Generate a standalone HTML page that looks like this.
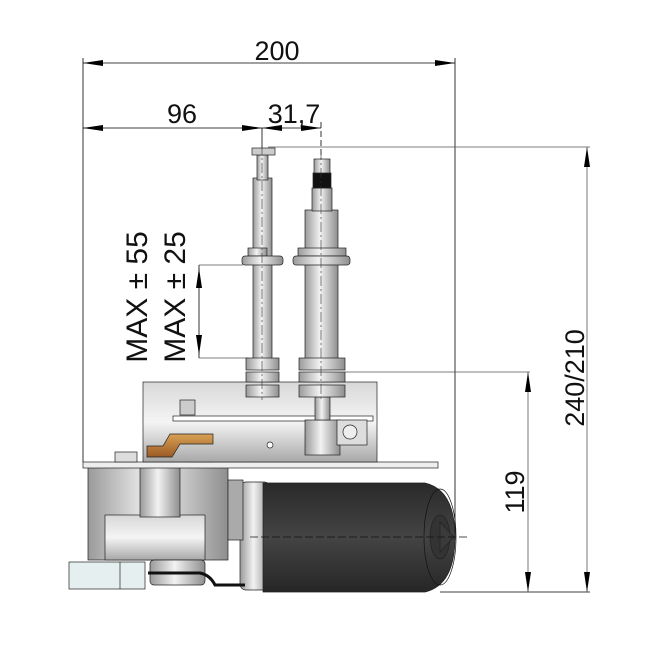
<!DOCTYPE html>
<html><head><style>html,body{margin:0;padding:0;background:#fff}svg{display:block}</style></head><body>
<svg width="660" height="656" viewBox="0 0 660 656" xmlns="http://www.w3.org/2000/svg" font-family="Liberation Sans, sans-serif">
<defs>
<linearGradient id="metal" x1="0" x2="1"><stop offset="0" stop-color="#9a9a9a"/><stop offset=".45" stop-color="#f2f2f2"/><stop offset="1" stop-color="#8e8e8e"/></linearGradient>
<linearGradient id="metalv" x1="0" y1="0" x2="0" y2="1"><stop offset="0" stop-color="#d8d8d8"/><stop offset=".5" stop-color="#f4f4f4"/><stop offset="1" stop-color="#a8a8a8"/></linearGradient>
<linearGradient id="black" x1="0" y1="0" x2="0" y2="1"><stop offset="0" stop-color="#2a2a2a"/><stop offset=".5" stop-color="#444"/><stop offset="1" stop-color="#262626"/></linearGradient>
<linearGradient id="copper" x1="0" y1="0" x2="0" y2="1"><stop offset="0" stop-color="#d9a256"/><stop offset="1" stop-color="#9b5a24"/></linearGradient>
</defs>
<g stroke="#000" stroke-width="0.8" fill="none">
<line x1="83" y1="58" x2="83" y2="462"/>
<line x1="455" y1="58" x2="455" y2="540"/>
<line x1="83" y1="63" x2="455" y2="63"/>
<line x1="83" y1="128" x2="321" y2="128"/>
<line x1="262" y1="128" x2="262" y2="150"/>
<line x1="321" y1="122" x2="321" y2="160" stroke-dasharray="6,3"/>
<line x1="268" y1="147" x2="590" y2="147" stroke="#555"/>
<line x1="345" y1="372" x2="530" y2="372" stroke="#555"/>
<line x1="440" y1="592" x2="590" y2="592"/>
<line x1="587" y1="147" x2="587" y2="592" stroke="#555"/>
<line x1="528" y1="372" x2="528" y2="592" stroke="#555"/>
<line x1="199" y1="265" x2="199" y2="358"/>
<line x1="199" y1="265" x2="243" y2="265" stroke="#555"/>
<line x1="199" y1="358" x2="248" y2="358" stroke="#555"/>
</g>
<g fill="#000">
<polygon points="83,63 103,60 103,66"/><polygon points="455,63 435,60 435,66"/>
<polygon points="83,128 103,125 103,131"/><polygon points="262,128 242,125 242,131"/>
<polygon points="262,128 282,125 282,131"/><polygon points="321,128 301,125 301,131"/>
<polygon points="587,147 584,167 590,167"/><polygon points="587,592 584,572 590,572"/>
<polygon points="528,372 525,392 531,392"/><polygon points="528,592 525,572 531,572"/>
<polygon points="199,268 196,288 202,288"/><polygon points="199,355 196,335 202,335"/>
</g>
<g font-size="27" fill="#111">
<text x="277" y="60" text-anchor="middle">200</text>
<text x="182" y="123" text-anchor="middle">96</text>
<text x="294" y="123" text-anchor="middle">31,7</text>
<text transform="translate(584,378) rotate(-90)" text-anchor="middle">240/210</text>
<text transform="translate(524,492) rotate(-90)" text-anchor="middle">119</text>
</g>
<g font-size="30" fill="#111">
<text transform="translate(147,297) rotate(-90)" text-anchor="middle">MAX ± 55</text>
<text transform="translate(185,297) rotate(-90)" text-anchor="middle">MAX ± 25</text>
</g>
<g stroke="#222" stroke-width="0.7">
<rect x="240" y="482" width="30" height="108" rx="6" fill="url(#metal)"/>
<path d="M263,483 H425 Q455,490 455,537 Q455,585 425,592 H263 Z" fill="url(#black)"/>
<ellipse cx="440" cy="537" rx="16" ry="48" fill="none" stroke="#111"/>
<ellipse cx="440" cy="537" rx="10" ry="22" fill="#333"/>
<path d="M440,522 L454,537 L440,552 Z" fill="#3a3a3a"/>
<line x1="250" y1="537" x2="468" y2="537" stroke="#111" stroke-dasharray="8,3"/>
<rect x="88" y="467" width="140" height="93" fill="url(#metal)"/>
<rect x="105" y="515" width="100" height="45" fill="url(#metalv)"/>
<rect x="140" y="467" width="40" height="50" fill="url(#metal)"/>
<rect x="228" y="480" width="15" height="60" fill="#aaa"/>
<rect x="150" y="560" width="55" height="25" rx="4" fill="url(#metal)"/>
<path d="M148,573 H200 Q210,575 215,585 H245" stroke="#111" stroke-width="3" fill="none"/>
<rect x="69" y="562" width="76" height="27" fill="#e6efef"/>
<line x1="120" y1="562" x2="120" y2="589"/>
<rect x="83" y="462" width="355" height="6" fill="#eee"/>
<rect x="115" y="452" width="22" height="10" fill="#ddd"/>
<rect x="190" y="452" width="22" height="10" fill="#ddd"/>
<rect x="143" y="382" width="234" height="80" fill="url(#metalv)"/>
<rect x="173" y="416" width="200" height="5" fill="#fff"/>
<rect x="305" y="420" width="35" height="35" fill="url(#metal)"/>
<rect x="337" y="420" width="30" height="25" fill="#ddd"/>
<circle cx="350" cy="432" r="7" fill="#eee"/>
<circle cx="270" cy="445" r="3" fill="#fff"/>
<rect x="180" y="400" width="15" height="15" fill="#ccc"/>
<path d="M147,446 H163 L170,434 H213 V444 H180 L172,457 H147 Z" fill="url(#copper)"/>
<rect x="315" y="397" width="15" height="23" fill="url(#metal)"/>
<rect x="253" y="178" width="19" height="185" fill="url(#metal)"/>
<rect x="257" y="155" width="11" height="25" fill="url(#metal)"/>
<rect x="252" y="148" width="23" height="7" fill="#ccc"/>
<rect x="248" y="248" width="19" height="8" fill="url(#metal)"/>
<rect x="242" y="256" width="41" height="9" rx="3" fill="url(#metal)"/>
<rect x="246" y="358" width="33" height="12" fill="url(#metal)"/>
<rect x="246" y="372" width="33" height="10" fill="url(#metal)"/>
<rect x="246" y="385" width="33" height="12" fill="url(#metal)"/>
<rect x="305" y="210" width="33" height="150" fill="url(#metal)"/>
<rect x="312" y="188" width="20" height="23" fill="url(#metal)"/>
<rect x="313" y="173" width="18" height="15" fill="#111"/>
<rect x="314" y="159" width="16" height="14" fill="url(#metal)"/>
<rect x="298" y="248" width="48" height="8" fill="url(#metal)"/>
<rect x="293" y="256" width="57" height="9" rx="3" fill="url(#metal)"/>
<rect x="299" y="358" width="46" height="12" fill="url(#metal)"/>
<rect x="299" y="372" width="46" height="10" fill="url(#metal)"/>
<rect x="299" y="385" width="46" height="12" fill="url(#metal)"/>
</g>
<g stroke="#333" stroke-width="0.6" stroke-dasharray="10,3,2,3">
<line x1="262" y1="145" x2="262" y2="400"/>
<line x1="321" y1="150" x2="321" y2="400"/>
</g>
</svg>
</body></html>
